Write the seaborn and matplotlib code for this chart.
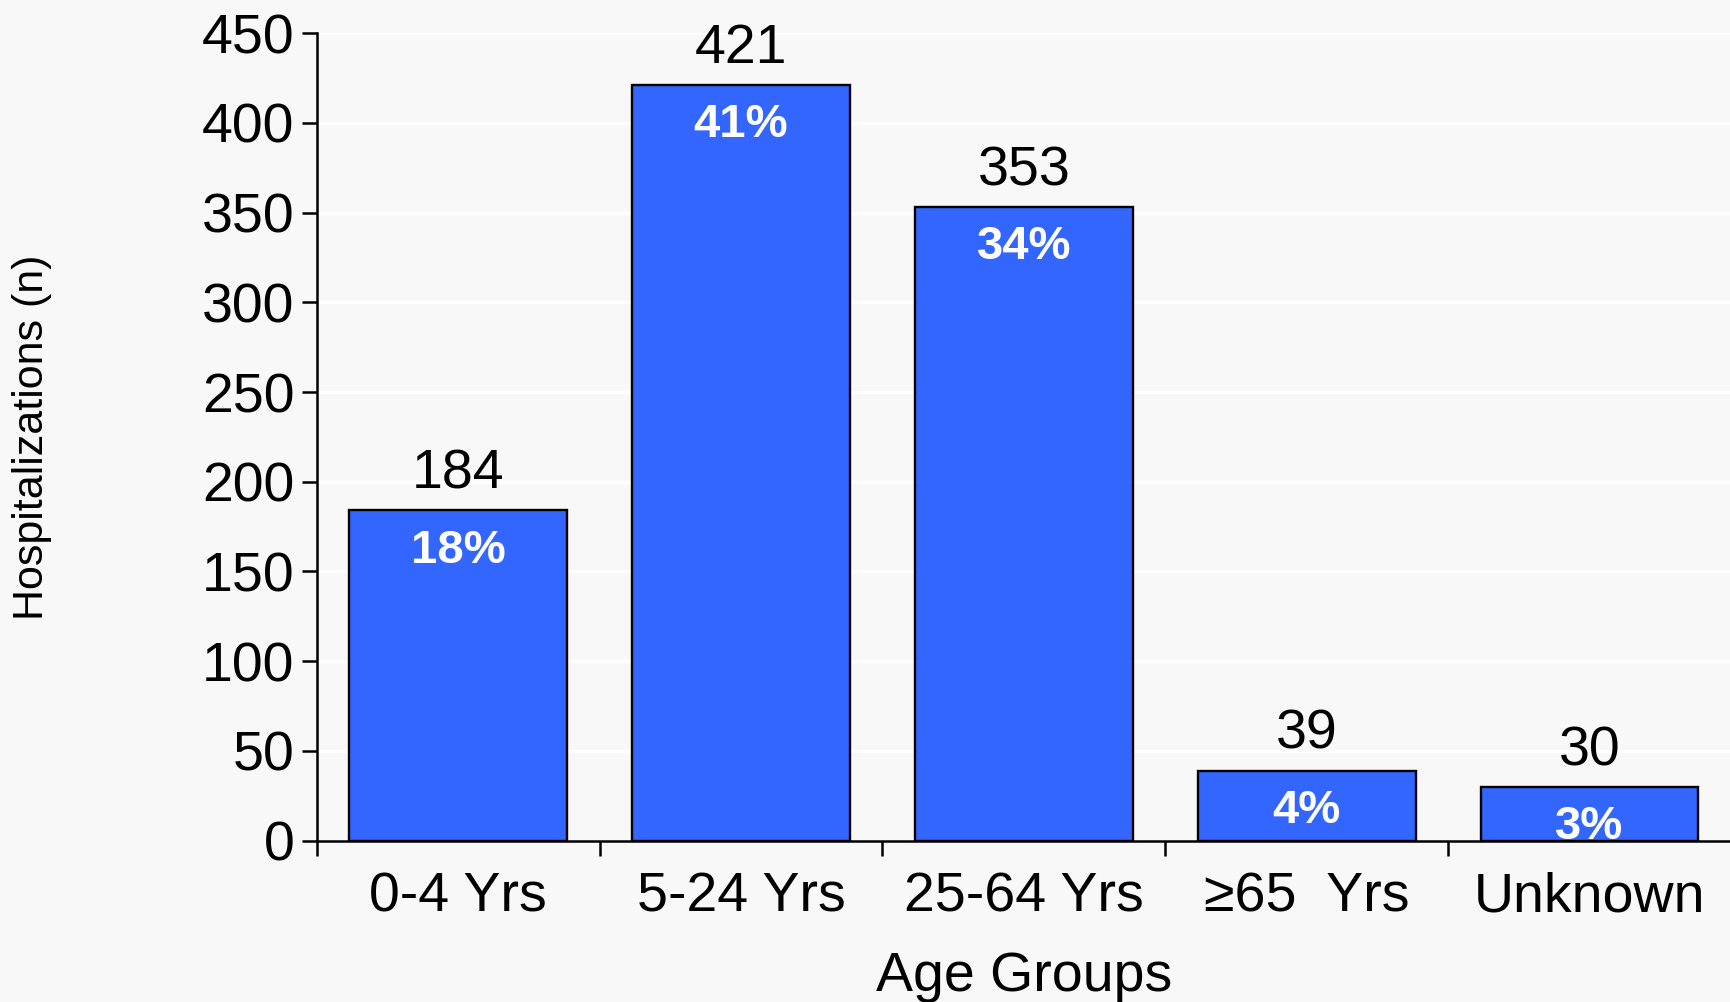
import matplotlib
matplotlib.use("Agg")
import matplotlib.pyplot as plt
from matplotlib.ticker import FixedLocator, MultipleLocator
import seaborn as sns

categorias = ["0-4 Yrs", "5-24 Yrs", "25-64 Yrs", "≥65  Yrs", "Unknown"]
hospitalizaciones = [184, 421, 353, 39, 30]
porcentajes = [18, 41, 34, 4, 3]

AZUL = "#3366FF"
FONDO = "#F8F8F8"

sns.set_theme(style="white")
plt.rcParams["font.family"] = ["Liberation Sans", "DejaVu Sans"]

fig = plt.figure(figsize=(17.31, 10.02), dpi=100, facecolor=FONDO)
ax = fig.add_axes([0.183, 0.161, 0.817, 0.806])
ax.set_facecolor(FONDO)

sns.barplot(x=categorias, y=hospitalizaciones, color=AZUL, saturation=1,
            width=0.77, edgecolor="black", linewidth=1.7, ax=ax, zorder=3)

# etiquetas: valor encima, porcentaje dentro de la barra
for barra, n, p in zip(ax.patches, hospitalizaciones, porcentajes):
    xc = barra.get_x() + barra.get_width() / 2
    ax.annotate(f"{n}", (xc, barra.get_height()), xytext=(0, 7),
                textcoords="offset points", ha="center", va="bottom",
                fontsize=40, color="black")
    ax.annotate(f"{p}%", (xc, barra.get_height()), xytext=(0, -13),
                textcoords="offset points", ha="center", va="top",
                fontsize=34, fontweight="bold", color="white", zorder=4)

ax.set_xlim(-0.5, 4.5)
ax.set_ylim(0, 450)
ax.yaxis.set_major_locator(MultipleLocator(50))
ax.grid(axis="y", color="white", lw=2.2, zorder=0)
ax.set_axisbelow(True)

# ticks del eje x en los límites entre categorías, etiquetas en el centro
ax.xaxis.set_major_locator(FixedLocator([-0.5, 0.5, 1.5, 2.5, 3.5]))
ax.xaxis.set_minor_locator(FixedLocator(range(len(categorias))))
ax.set_xticklabels([], minor=False)
ax.set_xticklabels(categorias, minor=True)
ax.tick_params(axis="x", which="major", length=11, width=1.8, direction="out",
               color="black", bottom=True)
ax.tick_params(axis="x", which="minor", length=0, pad=22, labelsize=40,
               labelcolor="black")
ax.tick_params(axis="y", length=11, width=1.8, direction="out", color="black",
               pad=5, labelsize=40, labelcolor="black", left=True)

for lado in ["top", "right"]:
    ax.spines[lado].set_visible(False)
for lado in ["left", "bottom"]:
    ax.spines[lado].set_color("black")
    ax.spines[lado].set_linewidth(1.8)

ax.set_xlabel("Age Groups", fontsize=40, color="black", labelpad=20)
ax.set_ylabel("Hospitalizations (n)", fontsize=31, color="black", labelpad=108)

fig.savefig("out.png", dpi=100, facecolor=FONDO)
